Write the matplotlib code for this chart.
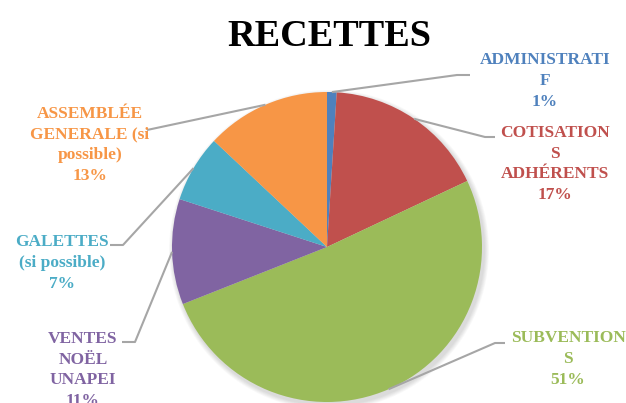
import numpy as np
import matplotlib.pyplot as plt
from matplotlib.patches import Circle

# data
categories = ['ADMINISTRATI\nF', 'COTISATION\nS\nADHÉRENTS', 'SUBVENTION\nS',
              'VENTES\nNOËL\nUNAPEI', 'GALETTES\n(si possible)',
              'ASSEMBLÉE\nGENERALE (si\npossible)']
values = [1, 17, 51, 11, 7, 13]
colors = ['#4F81BD', '#C0504D', '#9BBB59', '#8064A2', '#4BACC6', '#F79646']

W, H = 626, 403
fig = plt.figure(figsize=(W / 100, H / 100), dpi=100)
ax = fig.add_axes([0, 0, 1, 1])

cx, cy, r = 327, H - 247, 155

# soft shadow
for k in range(6):
    ax.add_patch(Circle((cx + 2, cy - 3), r + 1 + k * 0.8, color='#000000',
                        alpha=0.025, lw=0, zorder=0))

wedges, _ = ax.pie(values, colors=colors, startangle=90, counterclock=False,
                   center=(cx, cy), radius=r, frame=True,
                   wedgeprops=dict(linewidth=0))
ax.set_xlim(0, W)
ax.set_ylim(0, H)
ax.set_aspect('equal')
ax.axis('off')

# label layout: text centre, elbow point, end of leader (image coords)
text_pos = [(545, 81), (555, 164), (568, 359), (83, 370), (62, 263), (90, 145)]
elbows = [(457, 75), (485, 137), (495, 343), (135, 342), (123, 245), (147, 130)]
ends = [(470, 75), (495, 137), (505, 343), (122, 342), (110, 245), (147, 130)]

font = dict(family='Liberation Serif', weight='bold', size=12.5)
for w, lab, v, col, tp, el, en in zip(wedges, categories, values, colors,
                                      text_pos, elbows, ends):
    ang = np.deg2rad((w.theta1 + w.theta2) / 2)
    sx, sy = cx + r * np.cos(ang), cy + r * np.sin(ang)
    ax.plot([sx, el[0], en[0]], [sy, H - el[1], H - en[1]],
            color='#A6A6A6', lw=1.5, zorder=3, solid_capstyle='butt')
    ax.text(tp[0], H - tp[1], f'{lab}\n{v}%', color=col, ha='center',
            va='center', linespacing=1.38, zorder=4, **font)

ax.text(329, H - 37, 'RECETTES', ha='center', va='center',
        family='Liberation Serif', weight='bold', size=27.5, color='black')

fig.savefig('out.png', dpi=100)
